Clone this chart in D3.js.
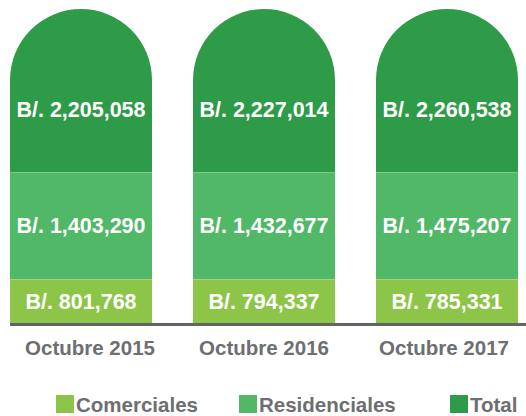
<!DOCTYPE html>
<html>
<head>
<meta charset="utf-8">
<script src="https://cdn.jsdelivr.net/npm/d3@7/dist/d3.min.js"></script>
<style>
  html, body { margin: 0; padding: 0; background: #fff; }
  svg { display: block; }
  text { font-family: "Liberation Sans", Arial, Helvetica, sans-serif; font-weight: bold; }
</style>
</head>
<body>
<script>
const categories = ["Octubre 2015", "Octubre 2016", "Octubre 2017"];
const series = ["Comerciales", "Residenciales", "Total"];
const comerciales = [801768, 794337, 785331];
const residenciales = [1403290, 1432677, 1475207];
const total = [2205058, 2227014, 2260538];
const seriesValues = [comerciales, residenciales, total];
const colors = ["#8cc548", "#50b866", "#2e9b48"];

const W = 526, H = 416;
const svg = d3.select("body").append("svg").attr("width", W).attr("height", H);

const x = d3.scaleBand().domain(categories).range([10, 518]).paddingInner(0.224).paddingOuter(0);
// layer stack positions (infographic: equal layer heights for every column)
const y = d3.scaleLinear().domain([0, 1, 2, 3]).range([323, 279, 172, 9]);

const fmt = d3.format(",");
const bw = x.bandwidth();
const r = bw / 2;

categories.forEach((c, ci) => {
  const x0 = x(c), x1 = x0 + bw;
  const g = svg.append("g");
  series.forEach((s, si) => {
    const yb = y(si), yt = y(si + 1);
    if (si < 2) {
      g.append("rect")
        .attr("x", x0).attr("y", yt)
        .attr("width", bw).attr("height", yb - yt)
        .attr("fill", colors[si]);
    } else {
      const p = d3.path();
      p.moveTo(x0, yb);
      p.lineTo(x0, yt + r);
      p.arc(x0 + r, yt + r, r, Math.PI, 2 * Math.PI);
      p.lineTo(x1, yb);
      p.closePath();
      g.append("path").attr("d", p.toString()).attr("fill", colors[si]);
    }
  });
  [1, 2].forEach(k => {
    g.append("line").attr("x1", x0).attr("x2", x1).attr("y1", y(k) + 0.5).attr("y2", y(k) + 0.5)
      .attr("stroke", "rgba(255,255,255,0.25)").attr("stroke-width", 1);
  });
  series.forEach((s, si) => {
    const yb = y(si), yt = y(si + 1);
    const cy = si < 2 ? (yb + yt) / 2 : yb - (yb - yt) * 0.385;
    g.append("text")
      .attr("x", x0 + bw / 2).attr("y", cy).attr("dy", "0.36em")
      .attr("text-anchor", "middle").attr("fill", "#fff")
      .attr("font-size", 21.5)
      .text("B/. " + fmt(seriesValues[si][ci]));
  });
});

svg.append("line").attr("x1", 10).attr("x2", W).attr("y1", y(0) + 1.5).attr("y2", y(0) + 1.5)
  .attr("stroke", "#636466").attr("stroke-width", 3);

svg.selectAll("text.cat").data(categories).enter().append("text")
  .attr("class", "cat")
  .attr("x", d => x(d) + bw / 2 + (d === categories[0] ? 9 : (d === categories[2] ? -3 : 0)))
  .attr("y", 355).attr("text-anchor", "middle")
  .attr("fill", "#6d6e71").attr("font-size", 20.5)
  .text(d => d);

const legX = [56, 239, 450];
const leg = svg.selectAll("g.leg").data(series).enter().append("g").attr("class", "leg")
  .attr("transform", (d, i) => `translate(${legX[i]},395)`);
leg.append("rect").attr("width", 18).attr("height", 18).attr("fill", (d, i) => colors[i]);
leg.append("text").attr("x", 20).attr("y", 17).attr("fill", "#6d6e71").attr("font-size", 20.5).text(d => d);
</script>
</body>
</html>
